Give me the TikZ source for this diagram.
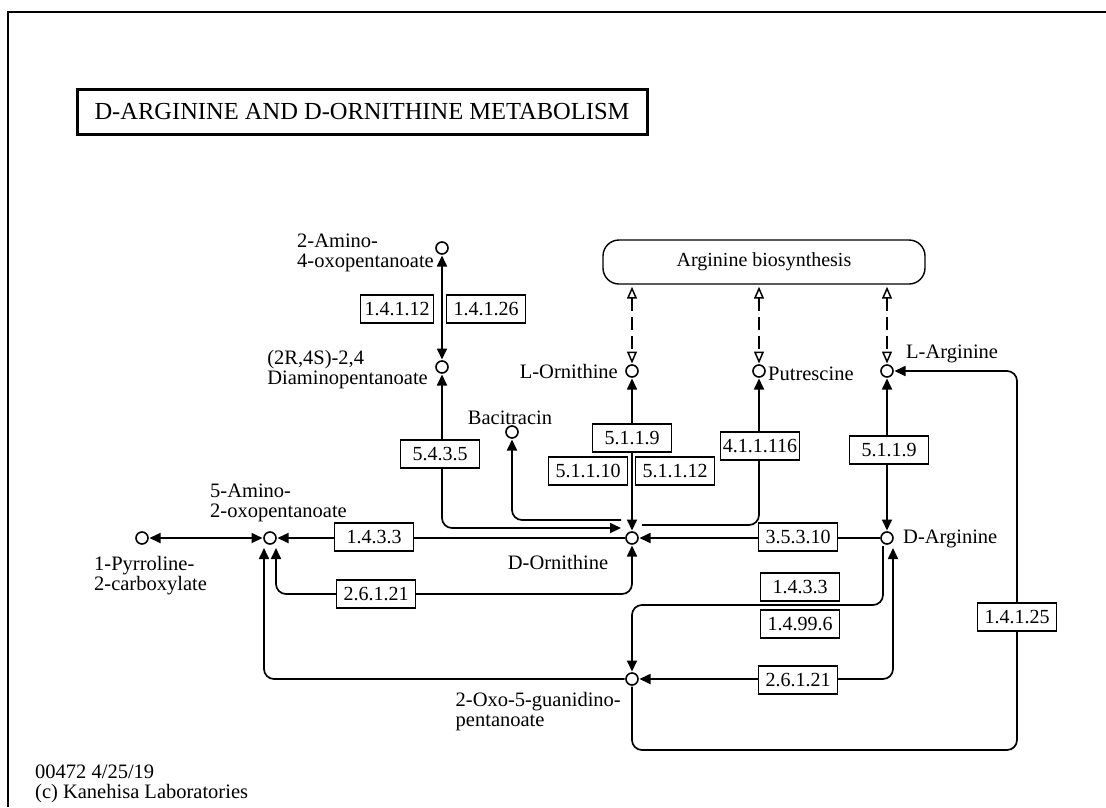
\documentclass[tikz,border=0pt]{standalone}
\usepackage{fontspec}
\setmainfont{Liberation Serif}
\usetikzlibrary{arrows.meta,calc,backgrounds}

\begin{document}
\begin{tikzpicture}[x=1pt,y=-1pt,
  cpd/.style={circle,draw,line width=1.6pt,fill=white,minimum size=12pt,inner sep=0pt,outer sep=1.5pt},
  enz/.style={draw,line width=1.4pt,fill=white,minimum width=79pt,minimum height=28pt,inner sep=0pt,font=\fontsize{20}{20}\selectfont},
  lbl/.style={inner sep=0pt,align=left,font=\fontsize{20.5}{20}\selectfont},
  rxn/.style={line width=1.7pt,rounded corners=10pt},
  link/.style={line width=1.5pt,dash pattern=on 13pt off 6pt,shorten <=2pt,{Triangle[open,length=12pt,width=10pt]}-{Triangle[open,length=12pt,width=10pt]}},
  >={Triangle[length=11pt,width=10pt]}]

\useasboundingbox (0,0) rectangle (1106,807);

% Draw the frame
\draw[line width=2pt] (8,807) -- (8,12) -- (1106,12);

% Title and map link
\node[draw,line width=3pt,minimum width=570pt,minimum height=45pt,inner sep=0pt,font=\fontsize{24.5}{24.5}\selectfont] (title) at (362,112) {D-ARGININE AND D-ORNITHINE METABOLISM};
\node[draw,rounded corners=16pt,line width=1.4pt,minimum width=322pt,minimum height=44pt,font=\fontsize{20}{20}\selectfont] (argbio) at (764,262) {Arginine biosynthesis};

% Compounds
\node[cpd] (amox) at (442,248) {};
\node[cpd] (diam) at (442,367) {};
\node[cpd] (lorn) at (632,371) {};
\node[cpd] (putr) at (759,371) {};
\node[cpd] (larg) at (887,371) {};
\node[cpd] (bacit) at (512,432) {};
\node[cpd] (dorn) at (632,538) {};
\node[cpd] (darg) at (887,538) {};
\node[cpd] (amino5) at (270,538) {};
\node[cpd] (pyr) at (142,538) {};
\node[cpd] (oxo) at (632,679) {};

% Compound names
\node[lbl,anchor=east] (amox-l) at (434,253) {2-Amino-\\4-oxopentanoate};
\node[lbl,anchor=east] (diam-l) at (428,370) {(2R,4S)-2,4\\Diaminopentanoate};
\node[lbl,anchor=east] (lorn-l) at (618,371) {L-Ornithine};
\node[lbl,anchor=west] (putr-l) at (768,374) {Putrescine};
\node[lbl,anchor=west] (larg-l) at (906,354) {L-Arginine};
\node[lbl] (bacit-l) at (510,418) {Bacitracin};
\node[lbl] (dorn-l) at (558,562) {D-Ornithine};
\node[lbl,anchor=west] (darg-l) at (903,539) {D-Arginine};
\node[lbl,anchor=south west] (amino5-l) at (210,522) {5-Amino-\\2-oxopentanoate};
\node[lbl,anchor=north west] (pyr-l) at (94,556) {1-Pyrroline-\\2-carboxylate};
\node[lbl,anchor=north east] (oxo-l) at (621,692) {2-Oxo-5-guanidino-\\pentanoate};
\node[lbl,anchor=north west] (footer) at (35,765) {00472 4/25/19\\(c) Kanehisa Laboratories};

% Enzymes
\node[enz,minimum width=73pt] (ec1) at (397,309) {1.4.1.12};
\node[enz] (ec2) at (486,309) {1.4.1.26};
\node[enz] (ec3) at (440,454) {5.4.3.5};
\node[enz] (ec4) at (632,438) {5.1.1.9};
\node[enz] (ec5) at (588,471) {5.1.1.10};
\node[enz] (ec6) at (675,471) {5.1.1.12};
\node[enz] (ec7) at (760,446) {4.1.1.116};
\node[enz] (ec8) at (889,450) {5.1.1.9};
\node[enz] (ec9) at (374,537) {1.4.3.3};
\node[enz] (ec10) at (798,537) {3.5.3.10};
\node[enz] (ec11) at (376,594) {2.6.1.21};
\node[enz] (ec12) at (800,587) {1.4.3.3};
\node[enz] (ec13) at (800,624) {1.4.99.6};
\node[enz] (ec14) at (798,680) {2.6.1.21};
\node[enz] (ec15) at (1017,617) {1.4.1.25};

% Ends of lines that meet a compound off centre
\coordinate (dornA) at (621,528);
\coordinate (dornB) at (621,520);
\coordinate (dornC) at (642,525);
\coordinate (amino5A) at (264,548);
\coordinate (amino5B) at (276,548);
\coordinate (dargA) at (883,546);
\coordinate (dargB) at (893,548);

% Reactions
\begin{scope}[on background layer]
\draw[rxn,<->] (amox) -- (diam);
\draw[rxn,<->] (diam) -- (442,528) -- (dornA);
\draw[rxn,->] (dornB) -- (512,520) -- (bacit);
\draw[rxn,<->] (lorn) -- (dorn);
\draw[rxn,->] (dornC) -- (759,525) -- (putr);
\draw[rxn,->] (darg) -- (dorn);
\draw[rxn,<->] (larg) -- (darg);
\draw[rxn,->] (dorn) -- (amino5);
\draw[rxn,<->] (pyr) -- (amino5);
\draw[rxn,<->] (amino5B) -- (276,594) -| (dorn);
\draw[rxn,->] (oxo) -| (amino5A);
\draw[rxn,->] (dargA) |- (632,605) -- (oxo);
\draw[rxn,<->] (oxo) -| (dargB);
\draw[rxn,->] (oxo) -- (632,750) -| (1017,371) -- (larg);

% Links to the other map
\foreach \c in {lorn,putr,larg}
  \draw[link] (argbio.south -| \c) -- (\c);
\end{scope}

\end{tikzpicture}
\end{document}
